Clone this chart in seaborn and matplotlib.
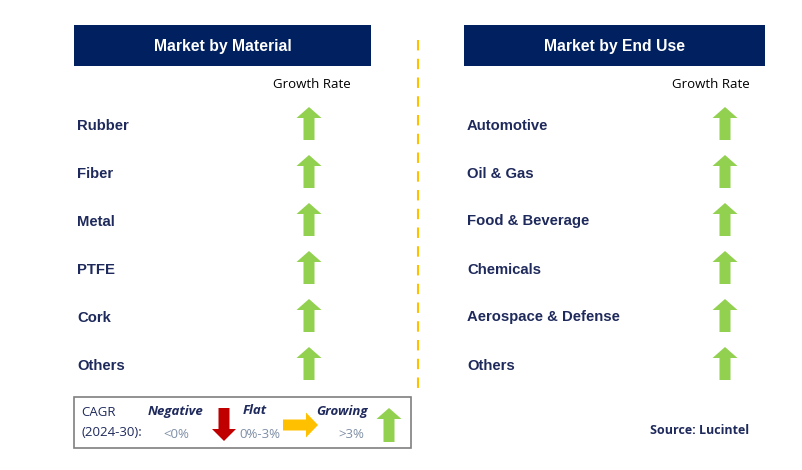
import matplotlib
matplotlib.use("Agg")
import matplotlib.pyplot as plt
from matplotlib.patches import FancyArrow, Rectangle
import seaborn as sns

sns.set_theme(style="white")
plt.rcParams['font.family'] = ['Liberation Sans', 'DejaVu Sans']

# data
panel_titles = ["Market by Material", "Market by End Use"]
material = ["Rubber", "Fiber", "Metal", "PTFE", "Cork", "Others"]
end_use = ["Automotive", "Oil & Gas", "Food & Beverage", "Chemicals",
           "Aerospace & Defense", "Others"]
material_trend = ["up"] * 6
end_use_trend = ["up"] * 6

NAVY = "#002060"
TEXT = "#1F2A5C"
GREEN = "#92D050"
RED = "#C00000"
AMBER = "#FFC000"
CAL = ["Open Sans", "DejaVu Sans"]

fig = plt.figure(figsize=(8.02, 4.70), dpi=100)
ax = fig.add_axes([0, 0, 1, 1])
ax.set_xlim(0, 802)
ax.set_ylim(470, 0)
ax.axis("off")


def up_arrow(x, ytop, ybot, color):
    ax.add_patch(FancyArrow(x, ybot, 0, -(ybot - ytop), width=11, head_width=25,
                            head_length=11, length_includes_head=True,
                            color=color, lw=0))


def panel(x0, x1, title, cats, trends, arrow_x, gr_x):
    ax.add_patch(Rectangle((x0, 25), x1 - x0, 41, color=NAVY, lw=0))
    ax.text((x0 + x1) / 2, 46, title, color="white", fontsize=11.3, fontweight="bold",
            ha="center", va="center")
    ax.text(gr_x, 85, "Growth Rate", color="black", fontsize=9.5,
            family=CAL, ha="center", va="center")
    for i, (c, t) in enumerate(zip(cats, trends)):
        y = 124 + 48 * i
        ax.text(x0 + 3, y + 5.5, c, color=TEXT, fontsize=10.7, fontweight="bold",
                ha="left", va="baseline")
        if t == "up":
            up_arrow(arrow_x, y - 17, y + 16, GREEN)


panel(74, 371, panel_titles[0], material, material_trend, 309, 312)
panel(464, 765, panel_titles[1], end_use, end_use_trend, 725, 711)

# divider
ax.plot([418, 418], [40, 392], color=AMBER, lw=1.5, ls=(0, (5, 4)))

# legend box
ax.add_patch(Rectangle((74, 397), 337, 51, fill=False, ec="#7F7F7F", lw=1.2))
leg = dict(family=CAL, ha="center", va="center")
ax.text(81, 412, "CAGR", color=TEXT, fontsize=9.5, ha="left", va="center", family=CAL)
ax.text(81, 432, "(2024-30):", color=TEXT, fontsize=9.5, ha="left", va="center", family=CAL)
ax.text(176, 411, "Negative", color=TEXT, fontsize=9.5, fontweight="bold", style="italic", **leg)
ax.text(176, 435, "<0%", color="#7F8FA6", fontsize=9.5, **leg)
ax.text(255, 411, "Flat", color=TEXT, fontsize=9.5, fontweight="bold", style="italic", **leg)
ax.text(260, 435, "0%-3%", color="#7F8FA6", fontsize=9.5, **leg)
ax.text(342, 411, "Growing", color=TEXT, fontsize=9.5, fontweight="bold", style="italic", **leg)
ax.text(351, 435, ">3%", color="#7F8FA6", fontsize=9.5, **leg)
ax.add_patch(FancyArrow(224, 408, 0, 33, width=11, head_width=24, head_length=12,
                        length_includes_head=True, color=RED, lw=0))
ax.add_patch(FancyArrow(283, 425, 35, 0, width=11, head_width=25, head_length=12,
                        length_includes_head=True, color=AMBER, lw=0))
up_arrow(389, 408, 442, GREEN)

ax.text(700, 430, "Source: Lucintel", color=TEXT, fontsize=9, fontweight="bold",
        family=CAL, ha="center", va="center")

fig.savefig("out.png", dpi=100)
